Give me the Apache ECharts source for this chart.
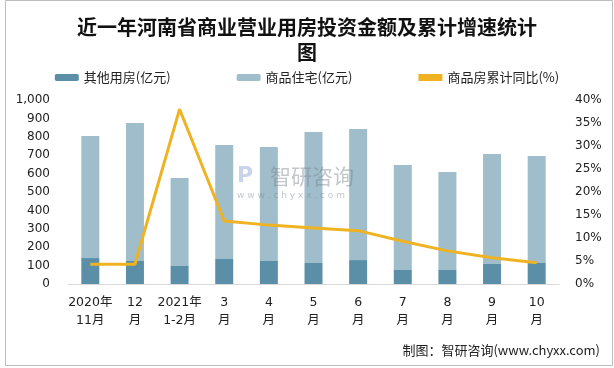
<!DOCTYPE html>
<html><head><meta charset="utf-8">
<script src="https://cdn.jsdelivr.net/npm/echarts@6/dist/echarts.min.js"></script>
<style>html,body{margin:0;padding:0;background:#fff}#c{width:614px;height:368px}</style>
</head><body><div id="c"></div>
<script>
const categories = ['2020年\n11月','12\n月','2021年\n1-2月','3\n月','4\n月','5\n月','6\n月','7\n月','8\n月','9\n月','10\n月'];
const otherHousing = [141,125,98,136,125,114,130,76,76,109,114];
const residential = [663,750,478,619,620,712,712,571,533,598,582];
const cumulativeGrowth = [4.3,4.3,38.0,13.7,12.8,12.2,11.6,9.3,7.2,5.7,4.6];
const leftTicks = {min:0,max:1000,interval:100};
const rightTicks = {min:0,max:40,interval:5};

const chart = echarts.init(document.getElementById('c'));
const axisFont = {fontFamily:'DejaVu Sans, Noto Sans CJK SC', fontSize:12, color:'#222'};
chart.setOption({
  animation:false,
  title:{text:'近一年河南省商业营业用房投资金额及累计增速统计\n图', left:'center', top:10,
    textStyle:{fontFamily:'Noto Sans CJK SC', fontWeight:'bold', fontSize:20, color:'#111', lineHeight:25}},
  legend:{top:66, left:'center', itemGap:66, itemWidth:24, itemHeight:7,
    textStyle:{fontFamily:'Noto Sans CJK SC', fontSize:13, color:'#222'},
    data:[{name:'其他用房(亿元)'},{name:'商品住宅(亿元)'},{name:'商品房累计同比(%)', icon:'rect'}]},
  grid:{left:68, right:55, top:100, bottom:84},
  xAxis:{type:'category', data:categories,
    axisLine:{lineStyle:{color:'#d9d9d9'}}, axisTick:{show:false},
    axisLabel:Object.assign({}, axisFont, {fontSize:12.5, lineHeight:18, margin:10, interval:0})},
  yAxis:[
    {type:'value', min:leftTicks.min, max:leftTicks.max, interval:leftTicks.interval,
     splitLine:{show:false}, axisLine:{show:false}, axisTick:{show:false},
     axisLabel:Object.assign({}, axisFont, {margin:18, formatter:v=>v.toLocaleString('en-US')})},
    {type:'value', min:rightTicks.min, max:rightTicks.max, interval:rightTicks.interval,
     splitLine:{show:false}, axisLine:{show:false}, axisTick:{show:false},
     axisLabel:Object.assign({}, axisFont, {margin:16, formatter:'{value}%'})}
  ],
  series:[
    {name:'其他用房(亿元)', type:'bar', stack:'a', data:otherHousing, barWidth:18, itemStyle:{color:'#5b8fa8'}},
    {name:'商品住宅(亿元)', type:'bar', stack:'a', data:residential, barWidth:18, itemStyle:{color:'#9fbdcb'}},
    {name:'商品房累计同比(%)', type:'line', yAxisIndex:1, data:cumulativeGrowth, showSymbol:false, symbol:'none',
     lineStyle:{color:'#efb322', width:3}, itemStyle:{color:'#efb322'}, z:5}
  ],
  graphic:[
    {type:'rect', shape:{x:5.5,y:0.5,width:607,height:365}, style:{fill:'none', stroke:'#bdbdbd', lineWidth:1}, silent:true},
    {type:'text', right:14, top:344, style:{text:'制图：智研咨询(www.chyxx.com)', fontFamily:'Noto Sans CJK SC', fontSize:13, fill:'#222'}},
    {type:'text', left:270, top:166, style:{text:'智研咨询', fontFamily:'Noto Sans CJK SC', fontSize:21, fill:'rgba(120,130,140,0.45)'}, z:10},
    {type:'text', left:237, top:191, style:{text:'w w w . c h y x x . c o m', fontFamily:'DejaVu Sans', fontSize:9, fill:'rgba(120,130,140,0.45)'}, z:10},
    {type:'text', left:237, top:165, style:{text:'P', fontFamily:'DejaVu Sans', fontWeight:'bold', fontSize:22, fill:'rgba(150,170,210,0.5)'}, z:10}
  ]
});
</script></body></html>
